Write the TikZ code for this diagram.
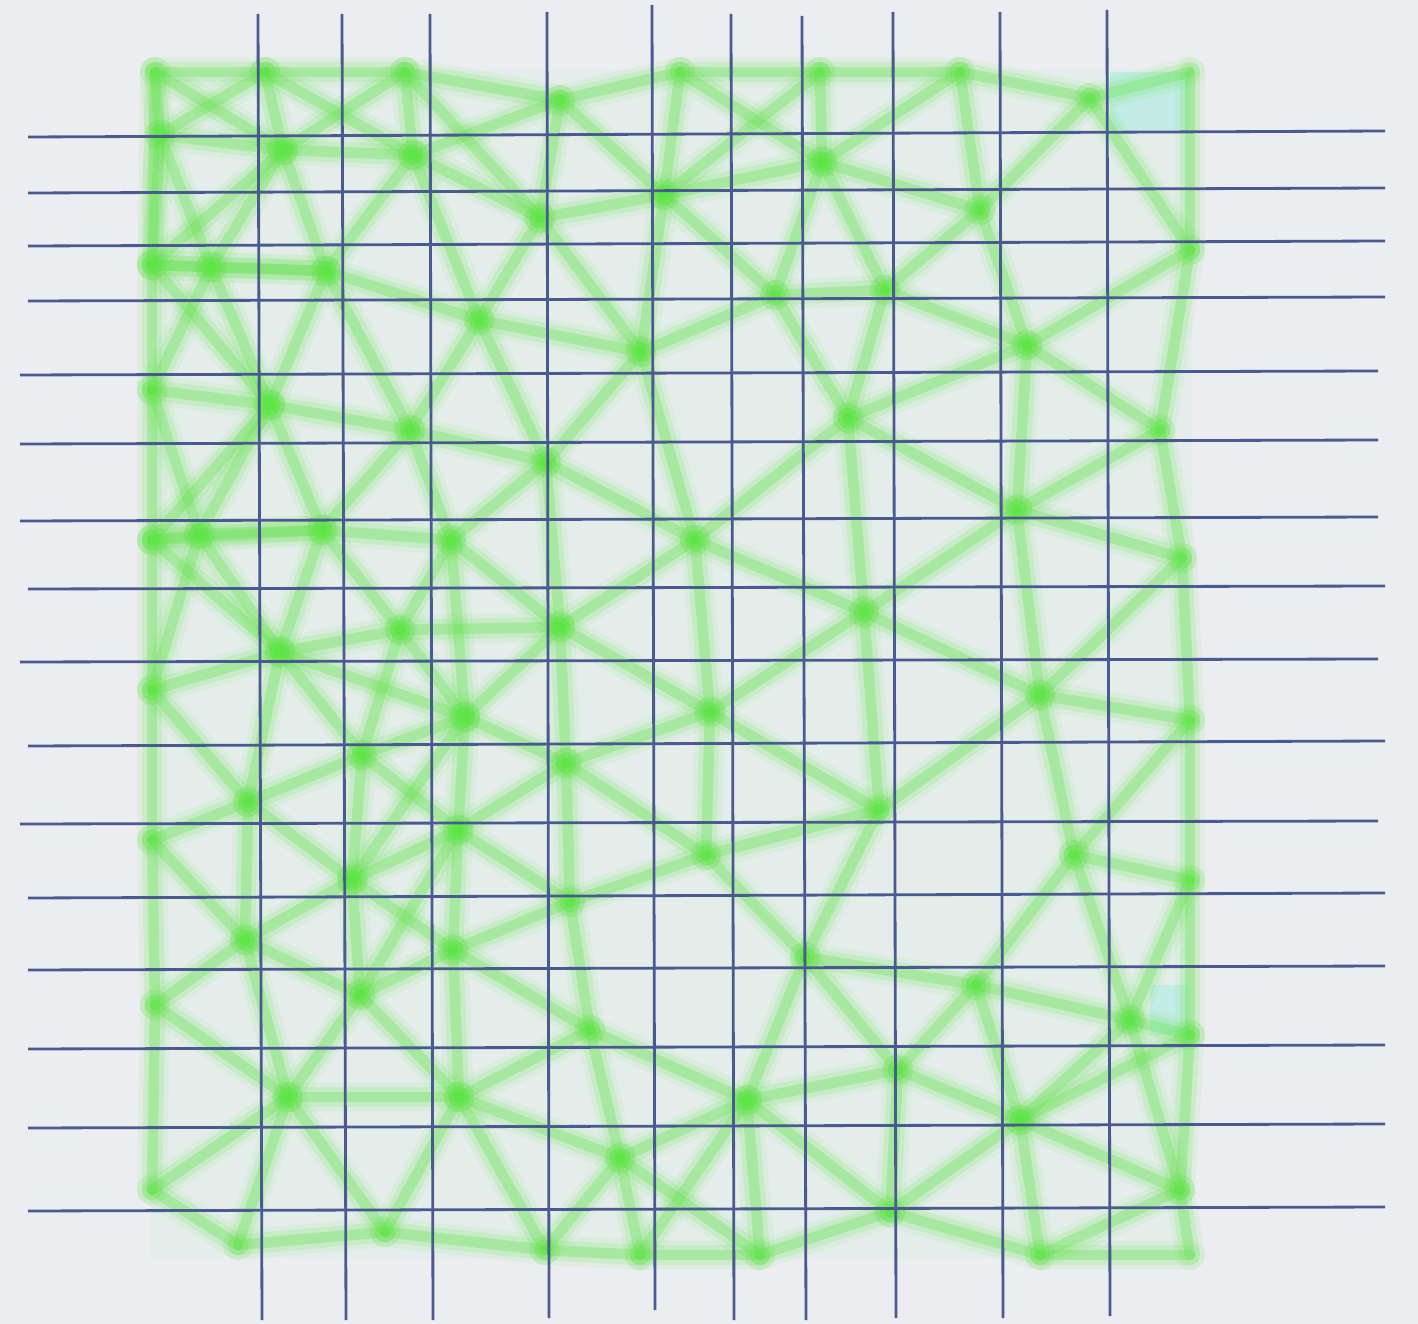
\documentclass[tikz,border=0pt]{standalone}
\usetikzlibrary{calc}
\definecolor{pagegray}{RGB}{236,237,240}
\definecolor{meshbg}{RGB}{228,237,234}
\definecolor{meshgreen}{RGB}{95,228,70}
\definecolor{gridblue}{RGB}{74,90,144}
\definecolor{tintcyan}{RGB}{186,236,228}
\def\meshpts{155/72, 265/72, 405/72, 680/72, 820/72, 960/72, 1190/72,
  1190/250, 1190/720, 1190/880, 1190/1035, 1190/1255,
  1040/1255, 760/1255, 640/1255,
  152/1190, 155/1005, 152/840, 152/690, 152/540, 152/390, 152/265,
  160/135, 283/150, 413/155, 560/100, 540/218, 664/195, 822/162, 980/210, 1090/98,
  211/267, 326/271, 479/320, 641/352, 775/295, 885/290, 1027/345, 1160/430,
  270/405, 410/430, 848/418,
  199/534, 322/530, 451/540, 546/462, 695/540, 1017/510, 1182/558,
  280/652, 400/630, 560/627, 864/612,
  465/717, 710/712, 1040/695,
  362/755, 566/763, 248/802, 458/830, 879/810,
  706/855, 1074/855, 352/880, 570/902, 245/940, 453/950, 805/957, 976/985,
  360/995, 590/1030, 1130/1020,
  288/1097, 459/1097, 747/1100, 898/1070, 1020/1120,
  620/1158, 238/1245, 385/1232, 545/1250, 890/1212, 1180/1190}

\begin{document}
\begin{tikzpicture}[x=0.1mm, y=-0.1mm,
  haze/.style={draw=meshgreen, line width=8.5pt, opacity=0.08, line cap=round},
  halo/.style={draw=meshgreen, line width=5.8pt, opacity=0.14, line cap=round},
  core/.style={draw=meshgreen, line width=3pt, opacity=0.3, line cap=round},
  gridline/.style={draw=gridblue, line width=0.8pt}]
  \fill[pagegray] (0,0) rectangle (1418,1324);
  \useasboundingbox (0,0) rectangle (1418,1324);
  \fill[meshbg] (150,70) rectangle (1192,1258);
  \fill[tintcyan, opacity=0.8] (1110,72) rectangle (1190,130);
  \fill[tintcyan, opacity=0.8] (1150,985) rectangle (1190,1035);

  % mesh vertices, joined when close
  \foreach \x/\y [count=\i] in \meshpts { \coordinate (v\i) at (\x,\y); }
  \foreach \xa/\ya [count=\i] in \meshpts {
    \foreach \xb/\yb [count=\j] in \meshpts {
      \ifnum\j>\i
        \pgfmathsetmacro\dist{veclen(\xb-\xa,\yb-\ya)}
        \ifdim\dist pt<200pt
          \draw[haze] (v\i) -- (v\j);
          \draw[halo] (v\i) -- (v\j);
          \draw[core] (v\i) -- (v\j);
        \fi
      \fi
    }
  }

  % grid on top
  \foreach \xl/\yl/\xr/\yr in {28/137/1385/131, 28/193/1385/188, 28/246/1385/241,
      28/301/1385/297, 20/375/1378/371, 20/444/1378/440, 20/521/1378/517,
      28/589/1385/586, 20/662/1378/659, 28/746/1385/741, 20/824/1378/821,
      28/898/1385/893, 28/970/1385/966, 28/1049/1385/1045, 28/1128/1385/1124,
      28/1211/1385/1207}
    \draw[gridline] (\xl,\yl) -- (\xr,\yr);
  \foreach \xt/\yt/\xb/\yb in {258/14/262/1320, 342/14/346/1320, 430/14/433/1320,
      547/12/549/1318, 652/5/655/1310, 731/14/734/1320, 802/16/806/1320,
      893/12/896/1318, 1000/12/1003/1318, 1107/10/1110/1316}
    \draw[gridline] (\xt,\yt) -- (\xb,\yb);
\end{tikzpicture}
\end{document}
